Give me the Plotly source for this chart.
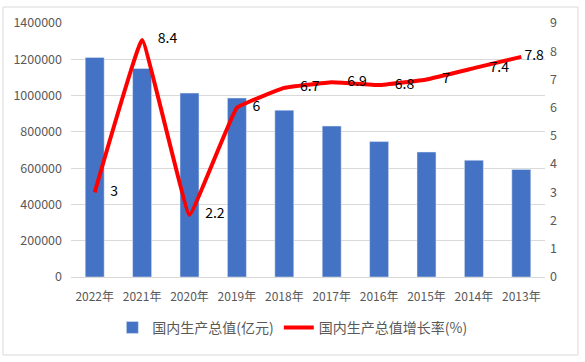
import plotly.graph_objects as go

years = ["2022年", "2021年", "2020年", "2019年", "2018年", "2017年", "2016年", "2015年", "2014年", "2013年"]
gdp = [1210207, 1149237, 1013567, 986515, 919281, 832036, 746395, 688858, 643563, 592963]
growth = [3, 8.4, 2.2, 6, 6.7, 6.9, 6.8, 7, 7.4, 7.8]
growth_labels = ["3", "8.4", "2.2", "6", "6.7", "6.9", "6.8", "7", "7.4", "7.8"]

font_family = "Noto Sans CJK SC, Liberation Sans, sans-serif"
pad_n = [5, 5, 5, 5, 5, 5, 5, 5, 5, 1]
label_text = ["\u00a0" * n + t for n, t in zip(pad_n, growth_labels)]

fig = go.Figure()
fig.add_trace(go.Bar(
    x=years, y=gdp, name="国内生产总值(亿元)",
    marker=dict(color="#4472C4"), yaxis="y",
))
fig.add_trace(go.Scatter(
    x=years, y=growth, name="国内生产总值增长率(%)",
    mode="lines+text", text=label_text, textposition="middle right",
    textfont=dict(size=14, color="#000000", family=font_family),
    line=dict(color="#FF0000", width=4, shape="spline", smoothing=0.22),
    yaxis="y2", cliponaxis=False,
))

fig.update_layout(
    width=585, height=362,
    margin=dict(l=71, r=40, t=23, b=85),
    paper_bgcolor="white", plot_bgcolor="white",
    font=dict(family=font_family, size=12, color="#595959"),
    bargap=0.6,
    showlegend=True,
    legend=dict(orientation="h", x=0.467, xanchor="center", y=-0.2, yanchor="middle",
                font=dict(size=14, color="#595959")),
    xaxis=dict(showgrid=False, showline=True, linecolor="#d9d9d9", ticks="",
               ticklabelstandoff=9,
               tickfont=dict(size=12, color="#595959")),
    yaxis=dict(range=[0, 1400000], dtick=200000, tickformat="d",
               showgrid=True, gridcolor="#d9d9d9", zeroline=False,
               ticklabelstandoff=8,
               tickfont=dict(size=12.5, color="#595959")),
    yaxis2=dict(range=[0, 9], dtick=1, overlaying="y", side="right",
                showgrid=False, zeroline=False, ticklabelstandoff=4,
                tickfont=dict(size=12.5, color="#595959")),
    shapes=[dict(type="rect", xref="paper", yref="paper",
                 x0=-0.1435, x1=1.0696, y0=-0.307, y1=1.063,
                 line=dict(color="#d9d9d9", width=1), fillcolor="rgba(0,0,0,0)")],
)

fig.write_html("out.html", config={"displayModeBar": False},
               post_script="document.body.style.margin='0';document.body.style.overflow='hidden';")
